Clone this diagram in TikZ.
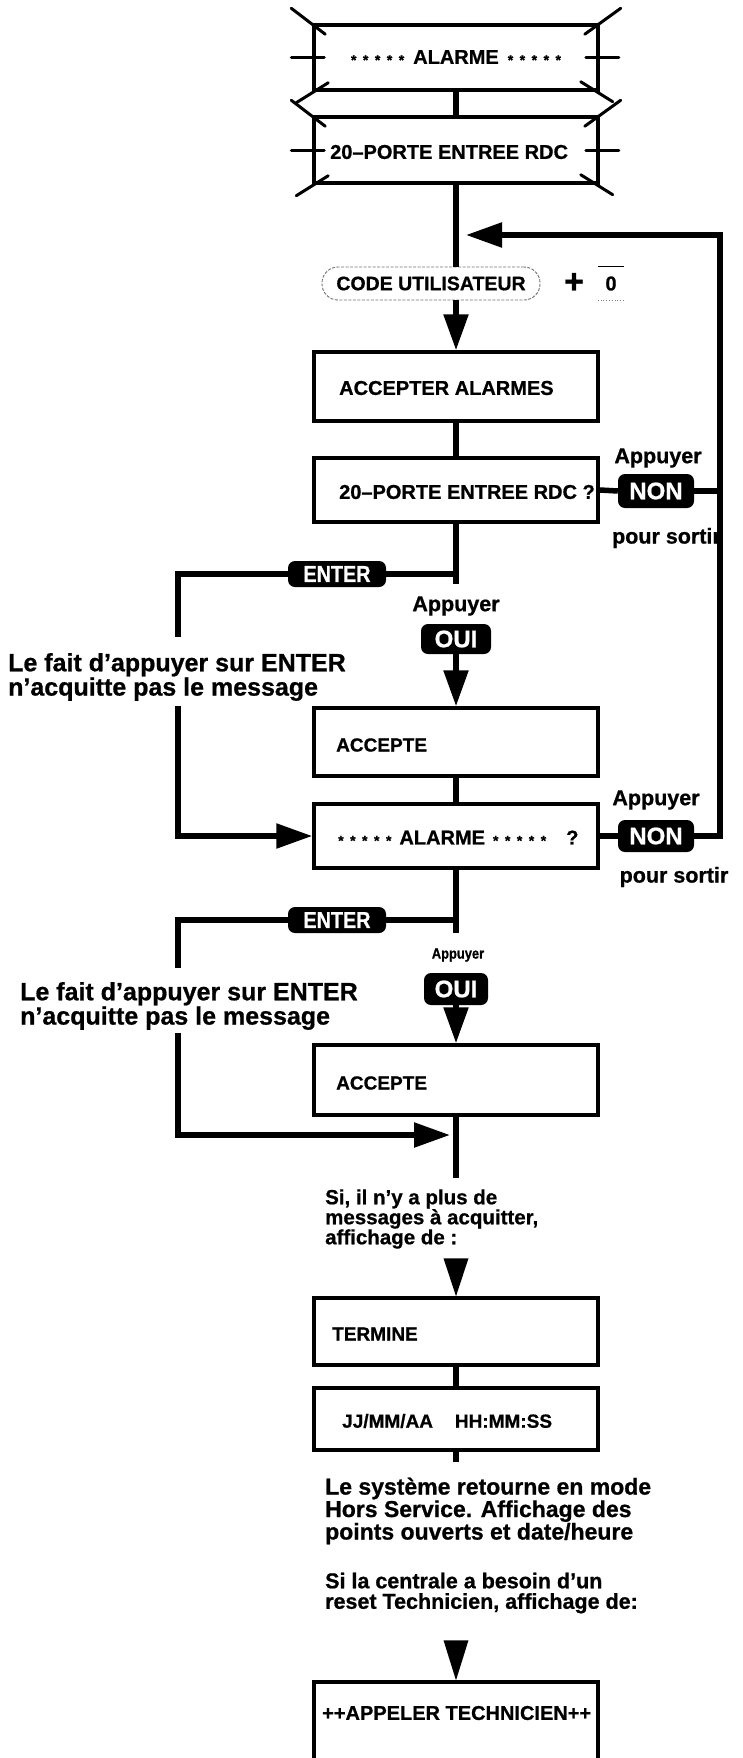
\documentclass[tikz,border=0pt]{standalone}
\usepackage{fontspec}
\setmainfont{Liberation Sans}[BoldFeatures={FakeBold=0.8}]
\newfontfamily\narrowfont[FakeStretch=0.86, BoldFeatures={FakeBold=0.8}]{Liberation Sans}
\usetikzlibrary{arrows.meta,calc}

% five small stars used around ALARME
\newcommand\starrow{\raisebox{-1pt}{\fontsize{14}{14}\selectfont *\kern6.5pt*\kern6.5pt*\kern6.5pt*\kern6.5pt*}}

\tikzset{
  conn/.style={line width=5.5pt, line join=miter, line cap=butt},
  head/.style={-{Triangle[width=24pt,length=36pt]}},
  lcd/.style={draw, line width=3.5pt, minimum width=284pt, inner sep=0pt,
    font=\fontsize{20}{20}\selectfont\bfseries},
  lcdtext/.style={anchor=west, inner sep=0pt, font=\fontsize{20}{20}\selectfont\bfseries},
  lcdsmall/.style={lcdtext, font=\fontsize{19}{19}\selectfont\bfseries},
  key/.style={fill=black, text=white, rounded corners=7pt, inner sep=0pt,
    font=\fontsize{24}{24}\selectfont\bfseries},
  keynarrow/.style={key, font=\narrowfont\fontsize{23}{23}\selectfont\bfseries},
  lbl/.style={inner sep=0pt, font=\fontsize{21.5}{21.5}\selectfont\bfseries},
  note/.style={anchor=west, align=left, inner sep=0pt,
    font=\fontsize{25}{22}\selectfont\bfseries},
  smallnote/.style={note, font=\fontsize{20.5}{20}\selectfont\bfseries},
  midnote/.style={note, font=\fontsize{21.5}{20.5}\selectfont\bfseries},
  ray/.style={line width=3pt, line cap=round},
}

\begin{document}
\begin{tikzpicture}[x=1pt,y=-1pt]
\useasboundingbox (0,0) rectangle (742,1758);
\clip (0,0) rectangle (742,1758);
\fill[white] (0,0) rectangle (742,1758);

% ---- flashing display ----
\node[lcd, minimum height=65pt] (A) at (456,57.5) {\starrow\hspace{9pt}ALARME\hspace{9pt}\starrow};
\node[lcd, minimum height=66pt] (B) at (456,150) {};
\node[lcdtext] (Bt) at (330,152) {20–PORTE ENTREE RDC};

\foreach \n in {A,B}{
  \draw[ray] ($(\n.north west)+(-21,-15)$) -- ($(\n.north west)+(13,11)$);
  \draw[ray] ($(\n.north east)+(21,-15)$) -- ($(\n.north east)+(-15,11)$);
  \draw[ray] ($(\n.west)+(-21,0)$) -- ($(\n.west)+(12,0)$);
  \draw[ray] ($(\n.east)+(-14,0)$) -- ($(\n.east)+(19,0)$);
  \draw[ray] ($(\n.south west)+(-16,11)$) -- ($(\n.south west)+(16,-9)$);
  \draw[ray] ($(\n.south east)+(13,10)$) -- ($(\n.south east)+(-19,-10)$);
}

% ---- code entry ----
\node[draw=black!55, dash pattern=on 3pt off 1.5pt, line width=0.9pt, rounded corners=16pt,
      minimum width=218pt, minimum height=33pt, inner sep=0pt,
      font=\fontsize{19.5}{19.5}\selectfont\bfseries] (code) at (431,283.5) {CODE UTILISATEUR};
\node[inner sep=0pt, font=\fontsize{34}{34}\selectfont\bfseries] (plus) at (574,283) {+};
\node[inner sep=0pt, minimum width=26pt, minimum height=34pt,
      font=\fontsize{20}{20}\selectfont\bfseries] (zero) at (611,283.5) {0};
\draw[line width=1pt] (zero.north west) -- (zero.north east);
\draw[line width=0.8pt, black!50, dotted] (zero.south west) -- (zero.south east);

% ---- display boxes ----
\node[lcd, minimum height=69pt] (C) at (456,386.5) {};
\node[lcdtext] (Ct) at (339,388) {ACCEPTER ALARMES};
\node[lcd, minimum height=64pt] (D) at (456,490) {};
\node[lcdtext] (Dt) at (339,492) {20–PORTE ENTREE RDC ?};
\node[lcd, minimum height=68pt] (F) at (456,742) {};
\node[lcdsmall] (Ft) at (336,745) {ACCEPTE};
\node[lcd, minimum height=64pt] (E) at (456,836) {};
\node[lcdtext] (Et) at (338,838) {\starrow\hspace{8pt}ALARME\hspace{8pt}\starrow\hspace{20pt}?};
\node[lcd, minimum height=70pt] (G) at (456,1080) {};
\node[lcdsmall] (Gt) at (336,1083) {ACCEPTE};
\node[lcd, minimum height=67pt] (H) at (456,1331.5) {};
\node[lcdsmall] (Ht) at (332,1334) {TERMINE};
\node[lcd, minimum height=62pt] (J) at (456,1419) {};
\node[lcdsmall] (Jt) at (342,1421) {JJ/MM/AA\hspace{22pt}HH:MM:SS};
\node[lcd, minimum height=90pt] (K) at (456,1727) {};
\node[lcdtext] (Kt) at (322,1713) {++APPELER TECHNICIEN++};

% ---- keys ----
\node[key, minimum width=76pt, minimum height=34pt] (non1) at (656,491) {NON};
\node[key, minimum width=76pt, minimum height=32pt] (non2) at (656,836) {NON};
\node[keynarrow, minimum width=98pt, minimum height=26pt] (enter1) at (337,574) {ENTER};
\node[keynarrow, minimum width=98pt, minimum height=26pt] (enter2) at (337,920) {ENTER};
\node[key, minimum width=70pt, minimum height=30pt] (oui1) at (456,639) {OUI};
\node[key, minimum width=64pt, minimum height=32pt] (oui2) at (456,989) {OUI};

% ---- key labels ----
\node[lbl] (app1) at (658,458) {Appuyer};
\node[lbl, anchor=east] (out1) at (721,538) {pour sortir};
\node[lbl] (app2) at (656,800) {Appuyer};
\node[lbl] (out2) at (674,877) {pour sortir};
\node[lbl] (app3) at (456,606) {Appuyer};
\node[lbl, font=\narrowfont\fontsize{15}{15}\selectfont\bfseries] (app4) at (458,955) {Appuyer};

% ---- notes ----
\node[note] (n1) at (8,677) {Le fait d’appuyer sur ENTER\\n’acquitte pas le message};
\node[note] (n2) at (20,1006) {Le fait d’appuyer sur ENTER\\n’acquitte pas le message};
\node[smallnote] (n3) at (325,1219) {Si, il n’y a plus de\\messages à acquitter,\\affichage de :};
\node[note, font=\fontsize{23}{20}\selectfont\bfseries] (n4) at (325,1511) {Le système retourne en mode\\Hors Service. Affichage des\\points ouverts et date/heure};
\node[midnote] (n5) at (325,1593) {Si la centrale a besoin d’un\\reset Technicien, affichage de:};

% ---- connectors ----
\draw[conn] (A.south) -- (B.north);
\draw[conn] (B.south) -- (B.south |- code.north);
\draw[conn, head] (B.south |- code.south) -- (C.north);
\draw[conn] (C.south) -- (D.north);

% exit loop on NON
\draw[conn] (D.east) -- (non1.west);
\draw[conn] (non1.east) -- (720,491);
\draw[conn] (E.east) -- (non2.west);
\draw[conn, head] (non2.east) -- (720,836) -- (720,235) -- (466,235);

% first question
\draw[conn] (D.south) -- (456,584);
\draw[conn] (456,574) -- (enter1.east);
\draw[conn] (enter1.west) -- (178,574) -- (178,637);
\draw[conn, head] (178,706) -- (178,836) -- (E.west);
\draw[conn, head] (oui1.south) -- (F.north);
\draw[conn] (F.south) -- (E.north);

% second question
\draw[conn] (E.south) -- (456,933);
\draw[conn] (456,920) -- (enter2.east);
\draw[conn] (enter2.west) -- (178,920) -- (178,968);
\draw[conn, head] (178,1033) -- (178,1135) -- (450,1135);
\draw[conn, head] (oui2.south) -- (G.north);
\draw[conn] (G.south) -- (456,1178);

% end of sequence
\fill (H.north) -- ++(-12.5,-38) -- ++(25,0) -- cycle;
\draw[conn] (H.south) -- (J.north);
\draw[conn] (J.south) -- ++(0,10);
\fill (K.north) -- ++(-12.5,-40) -- ++(25,0) -- cycle;
\end{tikzpicture}
\end{document}
